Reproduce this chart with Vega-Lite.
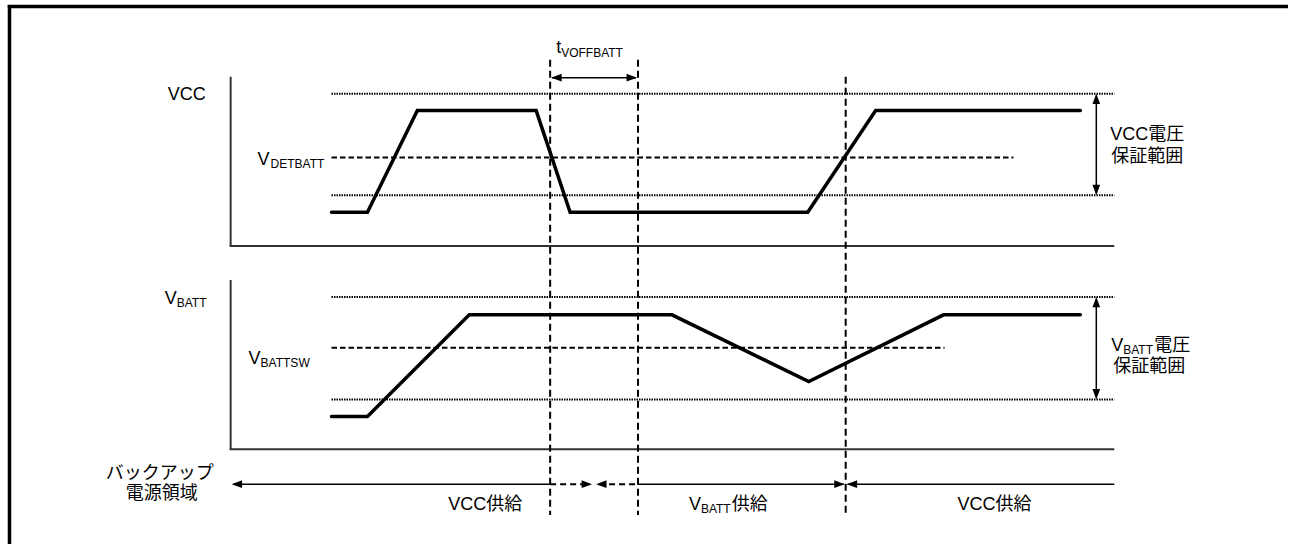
{
  "$schema": "https://vega.github.io/schema/vega-lite/v6.json",
  "width": 1290,
  "height": 546,
  "autosize": {"type": "fit", "contains": "padding"},
  "padding": 0,
  "background": "white",
  "config": {
    "view": {"stroke": null},
    "text": {"font": "'Liberation Sans', Arial, 'Noto Sans CJK JP', sans-serif", "color": "#000", "baseline": "alphabetic"}
  },
  "datasets": {
    "frame": [
      {"x": 9.5, "y": 5, "x2": 9.5, "y2": 546},
      {"x": 7.75, "y": 6.5, "x2": 1290, "y2": 6.5}
    ],
    "axes": [
      {"x": 231, "y": 77, "x2": 231, "y2": 247},
      {"x": 230, "y": 247, "x2": 1116, "y2": 247},
      {"x": 231, "y": 281, "x2": 231, "y2": 451},
      {"x": 230, "y": 451, "x2": 1116, "y2": 451}
    ],
    "limits": [
      {"x": 332, "y": 94, "x2": 1116, "y2": 94},
      {"x": 332, "y": 196, "x2": 1116, "y2": 196},
      {"x": 332, "y": 298, "x2": 1116, "y2": 298},
      {"x": 332, "y": 401, "x2": 1116, "y2": 401}
    ],
    "thresholds": [
      {"x": 332, "y": 158, "x2": 1015, "y2": 158},
      {"x": 332, "y": 349, "x2": 946, "y2": 349}
    ],
    "markers": [
      {"x": 551, "y": 60, "x2": 551, "y2": 517},
      {"x": 639, "y": 60, "x2": 639, "y2": 517},
      {"x": 847, "y": 77, "x2": 847, "y2": 517}
    ],
    "spans": [
      {"x": 553, "y": 78, "x2": 637, "y2": 78},
      {"x": 1098, "y": 96, "x2": 1098, "y2": 194},
      {"x": 1098, "y": 300, "x2": 1098, "y2": 399},
      {"x": 234, "y": 486, "x2": 551, "y2": 486},
      {"x": 639, "y": 486, "x2": 845, "y2": 486},
      {"x": 849, "y": 486, "x2": 1116, "y2": 486}
    ],
    "spansDashed": [
      {"x": 551, "y": 486, "x2": 590, "y2": 486},
      {"x": 600, "y": 486, "x2": 639, "y2": 486}
    ],
    "heads": [
      {"x": 552, "y": 78, "dir": "left"},
      {"x": 638, "y": 78, "dir": "right"},
      {"x": 1098, "y": 94, "dir": "up"},
      {"x": 1098, "y": 196, "dir": "down"},
      {"x": 1098, "y": 298, "dir": "up"},
      {"x": 1098, "y": 401, "dir": "down"},
      {"x": 232, "y": 486, "dir": "left"},
      {"x": 593, "y": 486, "dir": "right"},
      {"x": 597, "y": 486, "dir": "left"},
      {"x": 846, "y": 486, "dir": "right"},
      {"x": 848, "y": 486, "dir": "left"}
    ],
    "waves": [
      {"signal": "VCC", "x": 332, "y": 213},
      {"signal": "VCC", "x": 368, "y": 213},
      {"signal": "VCC", "x": 418, "y": 111},
      {"signal": "VCC", "x": 537, "y": 111},
      {"signal": "VCC", "x": 571, "y": 213},
      {"signal": "VCC", "x": 809, "y": 213},
      {"signal": "VCC", "x": 877, "y": 111},
      {"signal": "VCC", "x": 1082, "y": 111},
      {"signal": "VBATT", "x": 332, "y": 418},
      {"signal": "VBATT", "x": 368, "y": 418},
      {"signal": "VBATT", "x": 470, "y": 316},
      {"signal": "VBATT", "x": 673, "y": 316},
      {"signal": "VBATT", "x": 810, "y": 383},
      {"signal": "VBATT", "x": 945, "y": 316},
      {"signal": "VBATT", "x": 1082, "y": 316}
    ],
    "labels": [
      {"x": 168, "y": 100, "text": "VCC"},
      {"x": 258, "y": 166, "text": "V"},
      {"x": 557, "y": 53, "text": "t"},
      {"x": 165, "y": 305, "text": "V"},
      {"x": 249, "y": 365, "text": "V"},
      {"x": 1112, "y": 141, "text": "VCC電圧"},
      {"x": 1113, "y": 163, "text": "保証範囲"},
      {"x": 1113, "y": 352, "text": "V"},
      {"x": 1156, "y": 352, "text": "電圧"},
      {"x": 1115, "y": 373, "text": "保証範囲"},
      {"x": 690, "y": 512, "text": "V"},
      {"x": 733, "y": 512, "text": "供給"}
    ],
    "subs": [
      {"x": 271, "y": 169, "text": "DETBATT"},
      {"x": 562, "y": 57, "text": "VOFFBATT"},
      {"x": 177, "y": 308, "text": "BATT"},
      {"x": 261, "y": 368, "text": "BATTSW"},
      {"x": 1125, "y": 355, "text": "BATT"},
      {"x": 702, "y": 515, "text": "BATT"}
    ],
    "centered": [
      {"x": 160, "y": 481, "text": "バックアップ"},
      {"x": 162, "y": 501, "text": "電源領域"},
      {"x": 486, "y": 512, "text": "VCC供給"},
      {"x": 996, "y": 512, "text": "VCC供給"}
    ]
  },
  "encoding": {
    "x": {"field": "x", "type": "quantitative", "scale": {"domain": [0, 1290], "nice": false, "zero": false}, "axis": null},
    "y": {"field": "y", "type": "quantitative", "scale": {"domain": [0, 546], "reverse": true, "nice": false, "zero": false}, "axis": null}
  },
  "layer": [
    {
      "data": {"name": "frame"},
      "mark": {"type": "rule", "color": "#000", "strokeWidth": 3.5},
      "encoding": {"x2": {"field": "x2"}, "y2": {"field": "y2"}}
    },
    {
      "data": {"name": "axes"},
      "mark": {"type": "rule", "color": "#333", "strokeWidth": 2},
      "encoding": {"x2": {"field": "x2"}, "y2": {"field": "y2"}}
    },
    {
      "data": {"name": "limits"},
      "mark": {"type": "rule", "color": "#000", "strokeWidth": 2, "strokeDash": [1.5, 1]},
      "encoding": {"x2": {"field": "x2"}, "y2": {"field": "y2"}}
    },
    {
      "data": {"name": "thresholds"},
      "mark": {"type": "rule", "color": "#000", "strokeWidth": 2, "strokeDash": [5.5, 3]},
      "encoding": {"x2": {"field": "x2"}, "y2": {"field": "y2"}}
    },
    {
      "data": {"name": "markers"},
      "mark": {"type": "rule", "color": "#000", "strokeWidth": 2, "strokeDash": [7, 4]},
      "encoding": {"x2": {"field": "x2"}, "y2": {"field": "y2"}}
    },
    {
      "data": {"name": "spans"},
      "mark": {"type": "rule", "color": "#000", "strokeWidth": 1.5},
      "encoding": {"x2": {"field": "x2"}, "y2": {"field": "y2"}}
    },
    {
      "data": {"name": "spansDashed"},
      "mark": {"type": "rule", "color": "#000", "strokeWidth": 2, "strokeDash": [6, 4]},
      "encoding": {"x2": {"field": "x2"}, "y2": {"field": "y2"}}
    },
    {
      "data": {"name": "waves"},
      "mark": {"type": "line", "color": "#000", "strokeWidth": 3.5, "strokeCap": "round", "strokeJoin": "miter"},
      "encoding": {"detail": {"field": "signal"}}
    },
    {
      "data": {"name": "heads"},
      "mark": {"type": "point", "filled": true, "color": "#000", "opacity": 1, "size": 121, "strokeWidth": 0},
      "encoding": {
        "shape": {
          "field": "dir",
          "type": "nominal",
          "scale": {
            "domain": ["left", "right", "up", "down"],
            "range": ["M0,0L1.9,-0.7L1.9,0.7Z", "M0,0L-1.9,-0.7L-1.9,0.7Z", "M0,0L-0.7,1.9L0.7,1.9Z", "M0,0L-0.7,-1.9L0.7,-1.9Z"]
          },
          "legend": null
        }
      }
    },
    {
      "data": {"name": "labels"},
      "mark": {"type": "text", "fontSize": 18, "align": "left"},
      "encoding": {"text": {"field": "text"}}
    },
    {
      "data": {"name": "subs"},
      "mark": {"type": "text", "fontSize": 12, "align": "left"},
      "encoding": {"text": {"field": "text"}}
    },
    {
      "data": {"name": "centered"},
      "mark": {"type": "text", "fontSize": 18, "align": "center"},
      "encoding": {"text": {"field": "text"}}
    }
  ]
}
